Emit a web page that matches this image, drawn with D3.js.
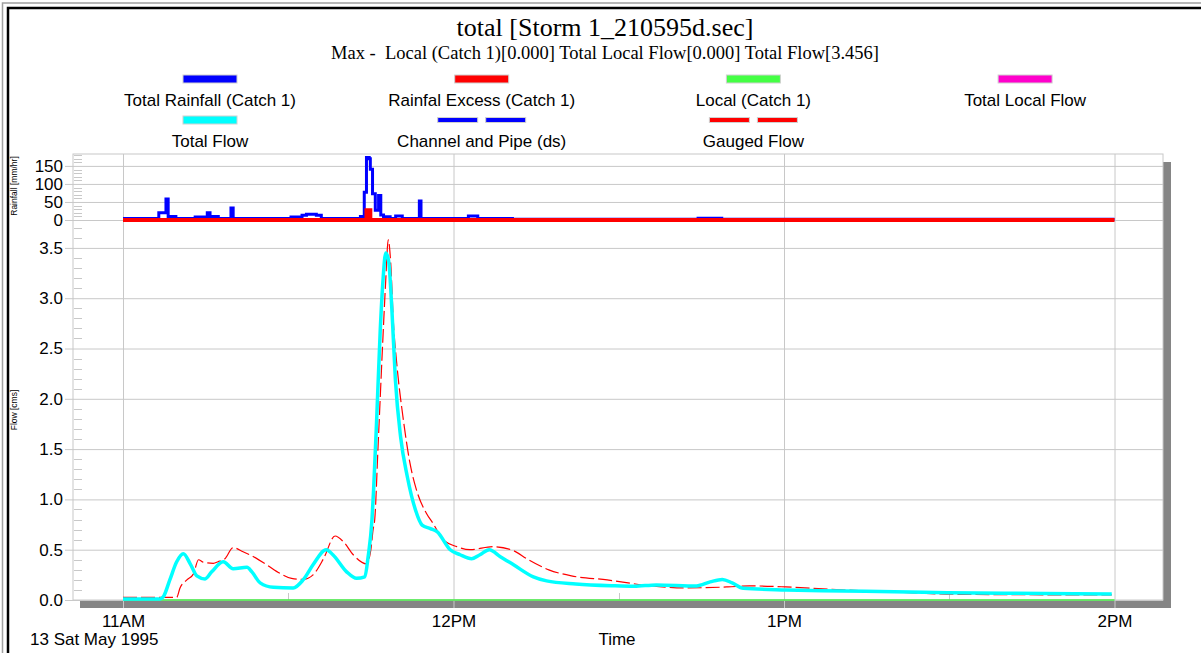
<!DOCTYPE html>
<html>
<head>
<meta charset="utf-8">
<script src="https://cdn.jsdelivr.net/npm/d3@7"></script>
<style>
  body { margin: 0; background: #fff; }
  svg { display: block; font-family: "Liberation Sans", Arial, sans-serif; }
</style>
</head>
<body>
<svg id="chart" width="1201" height="653"></svg>
<script>
// All series: [minutes after 11:00 on 13 May 1995, value]
const totalRainfall = [
  [0, 4], [6.5, 20], [7.8, 58], [8.2, 10], [9.6, 4], [13.1, 8], [15.3, 20], [15.8, 10],
  [17.3, 4], [19.6, 33], [20, 4], [30.5, 8], [32.5, 13], [33.3, 16], [35.1, 13], [36, 4],
  [43.1, 10], [43.8, 77], [44.2, 173], [44.7, 170], [44.9, 141], [45.3, 73], [45.8, 27],
  [46.4, 68], [46.8, 14], [47.3, 9], [48.5, 4], [49.5, 11], [50.7, 4], [53.8, 53], [54.1, 4],
  [62.7, 11], [64.4, 4], [70.7, 2], [104.4, 5], [108.7, 2], [180, 2]
];
const rainfallExcess = [[0, 0], [44.2, 27], [44.9, 0], [180, 0]];
const localCatch = [[0, 0], [180, 0]];

const totalFlow = [
  [0, 0.01], [6.7, 0.01], [7.3, 0.03], [8.5, 0.2], [9.75, 0.38], [10.95, 0.46], [12.2, 0.36],
  [13.4, 0.24], [14.9, 0.21], [16.1, 0.28], [18.2, 0.38], [20, 0.31], [22.5, 0.325], [23.4, 0.28],
  [24.9, 0.17], [27.3, 0.126], [30.9, 0.12], [32.7, 0.2], [34.5, 0.35], [36.9, 0.5], [38.1, 0.45],
  [40.6, 0.28], [42.4, 0.215], [43.9, 0.23], [44.5, 0.43], [45.2, 0.8], [45.5, 1.1], [46.1, 1.86],
  [46.7, 2.68], [47.2, 3.18], [47.7, 3.45], [48.2, 3.38], [48.85, 2.85], [49.45, 2.19], [50.4, 1.62],
  [51.6, 1.23], [53.1, 0.895], [54.3, 0.745], [55.8, 0.71], [57, 0.68], [59.4, 0.5], [61.2, 0.45],
  [63.3, 0.41], [64.8, 0.45], [66.5, 0.5], [68.5, 0.43], [70.9, 0.35], [74.5, 0.23], [76.9, 0.19],
  [82.2, 0.16], [88.7, 0.142], [92.8, 0.136], [96.8, 0.15], [104.1, 0.139], [106.6, 0.18],
  [108.8, 0.205], [110.6, 0.17], [112.6, 0.116], [120.4, 0.1], [126.9, 0.092], [140, 0.083],
  [149.7, 0.073], [160.1, 0.067], [179.5, 0.06]
];
const gaugedFlow = [
  [0, 0.027], [9.75, 0.027], [10.35, 0.12], [11.6, 0.2], [12.8, 0.26], [13.7, 0.4], [14.6, 0.375],
  [16.4, 0.365], [17.25, 0.38], [18.5, 0.41], [20, 0.52], [21.8, 0.48], [23.7, 0.43], [26.1, 0.35],
  [28.5, 0.265], [30.6, 0.215], [32.7, 0.205], [34.5, 0.25], [36.4, 0.41], [38.5, 0.636], [40, 0.58],
  [41.8, 0.45], [44.2, 0.36], [45, 0.5], [45.4, 0.7], [45.7, 0.8], [46.3, 1.52], [47.25, 2.68],
  [47.7, 3.18], [48.15, 3.58], [48.6, 3.35], [49.1, 2.75], [49.7, 2.35], [50.9, 1.79], [52.1, 1.36],
  [53.3, 1.09], [55.1, 0.86], [56.3, 0.76], [58.1, 0.6], [60.6, 0.53], [63, 0.5], [67.2, 0.53],
  [70.9, 0.49], [73.3, 0.41], [77.3, 0.3], [81.4, 0.24], [87.9, 0.2], [94.4, 0.15], [102.5, 0.12],
  [109.8, 0.13], [113.8, 0.14], [120.3, 0.13], [128.4, 0.106], [140, 0.08], [151, 0.057], [179.5, 0.05]
];

const hourTicks = [0, 60, 120, 180];
const halfHourTicks = [30, 90, 150];
const flowTicks = [0, 0.5, 1, 1.5, 2, 2.5, 3, 3.5];
const rainTicks = [0, 50, 100, 150];

const legendNames = ["Total Rainfall (Catch 1)", "Rainfal Excess (Catch 1)", "Local (Catch 1)", "Total Local Flow",
  "Total Flow", "Channel and Pipe (ds)", "Gauged Flow"];
const legendColors = ["#0000ff", "#ff0000", "#44ff44", "#ff00cc", "#00ffff", "#0000ff", "#ff0000"];
const legendDashed = [false, false, false, false, false, true, true];

const svg = d3.select("#chart");
const plot = { left: 73, right: 1163, top: 154, bottom: 600 };
const grid = "#c8c8c8";

const start = new Date(1995, 4, 13, 11, 0);
const toTime = m => new Date(start.getTime() + m * 60000);

const x = d3.scaleTime().domain([toTime(0), toTime(180)]).range([123, 1114.5]);
const flowY = d3.scaleLinear().domain([0, 3.7]).range([plot.bottom, 227.8]);
const rainY = d3.scaleLinear().domain([0, 183]).range([220, plot.top]);

// window frame
svg.append("path").attr("d", "M2.5,653V3H1201").attr("fill", "none").attr("stroke", "#a0a0a0").attr("stroke-width", 1.5);
svg.append("path").attr("d", "M8,653V8H1201").attr("fill", "none").attr("stroke", "#000").attr("stroke-width", 2.5);

// titles
svg.append("text").attr("x", 605).attr("y", 36).attr("text-anchor", "middle")
  .style("font-family", "'Liberation Serif', 'Times New Roman', serif").style("font-size", "26px")
  .text("total [Storm 1_210595d.sec]");
svg.append("text").attr("x", 605).attr("y", 59).attr("text-anchor", "middle")
  .style("font-family", "'Liberation Serif', 'Times New Roman', serif").style("font-size", "18.5px")
  .attr("xml:space", "preserve")
  .text("Max -  Local (Catch 1)[0.000] Total Local Flow[0.000] Total Flow[3.456]");

// legend
legendNames.forEach((name, i) => {
  const col = i % 4, row = Math.floor(i / 4);
  const cx = 210 + col * 271.7;
  const sy = row === 0 ? 75 : 116;
  const g = svg.append("g");
  if (legendDashed[i]) {
    [-44, 4].forEach(off => {
      g.append("rect").attr("x", cx + off).attr("y", sy + 1.5).attr("width", 40).attr("height", 5)
        .attr("fill", legendColors[i]).attr("stroke", "#d0d0d0").attr("stroke-width", 1);
    });
  } else {
    g.append("rect").attr("x", cx - 27).attr("y", sy).attr("width", 54).attr("height", 8)
      .attr("fill", legendColors[i]).attr("stroke", "#d0d0d0").attr("stroke-width", 1);
  }
  g.append("text").attr("x", cx).attr("y", sy + 31).attr("text-anchor", "middle")
    .style("font-size", "17px").text(name);
});

// plot shadow and background
svg.append("rect").attr("x", 80).attr("y", 162).attr("width", 1091).attr("height", 446).attr("fill", "#858585");
svg.append("rect").attr("x", plot.left).attr("y", plot.top).attr("width", plot.right - plot.left)
  .attr("height", plot.bottom - plot.top).attr("fill", "#fff").attr("stroke", grid);

// x axis with full-height grid lines
const xAxis = svg.append("g").attr("transform", `translate(0,${plot.top})`)
  .call(d3.axisBottom(x).tickValues(hourTicks.map(toTime)).tickSize(608 - plot.top).tickPadding(7)
    .tickFormat(d3.timeFormat("%-I%p")));
xAxis.select(".domain").remove();
xAxis.selectAll("line").attr("stroke", grid);
xAxis.selectAll("text").attr("fill", "#000").style("font-size", "17px").style("font-family", "'Liberation Sans', Arial, sans-serif");

svg.append("g").selectAll("line").data(halfHourTicks).join("line")
  .attr("x1", d => Math.round(x(toTime(d))) + 0.5).attr("x2", d => Math.round(x(toTime(d))) + 0.5)
  .attr("y1", plot.bottom - 7).attr("y2", plot.bottom).attr("stroke", grid);

// y axes: grid lines run from the label side across the plot
function yAxis(scale, ticks, fmt) {
  const g = svg.append("g").attr("transform", `translate(${plot.right},0)`)
    .call(d3.axisLeft(scale).tickValues(ticks).tickSize(plot.right - 65).tickPadding(2).tickFormat(fmt));
  g.select(".domain").remove();
  g.selectAll("line").attr("stroke", grid);
  g.selectAll("text").attr("fill", "#000").style("font-size", "17px").style("font-family", "'Liberation Sans', Arial, sans-serif");
}
yAxis(flowY, flowTicks, d3.format(".1f"));
yAxis(rainY, rainTicks, d3.format("d"));

// minor ticks on the left edge
const flowMinor = d3.range(1, 38).map(d => d / 10).filter(d => Math.round(d * 10) % 5 !== 0);
const rainMinor = d3.range(10, 190, 10).filter(d => d % 50 !== 0);
svg.append("g").selectAll("line").data(flowMinor.map(d => flowY(d)).concat(rainMinor.map(d => rainY(d))))
  .join("line").attr("x1", plot.left + 1).attr("x2", plot.left + 9)
  .attr("y1", d => Math.round(d) + 0.5).attr("y2", d => Math.round(d) + 0.5).attr("stroke", grid);

// axis titles
svg.append("text").attr("transform", "translate(17,186) rotate(-90)").attr("text-anchor", "middle")
  .style("font-size", "8.5px").text("Rainfall [mm/hr]");
svg.append("text").attr("transform", "translate(17,410) rotate(-90)").attr("text-anchor", "middle")
  .style("font-size", "8.5px").text("Flow [cms]");
svg.append("text").attr("x", 30).attr("y", 645).style("font-size", "17px").text("13 Sat May 1995");
svg.append("text").attr("x", 617).attr("y", 645).attr("text-anchor", "middle").style("font-size", "17px").text("Time");

// series
const lineOf = (scale, curve) => d3.line().x(d => x(toTime(d[0]))).y(d => scale(d[1])).curve(curve);

svg.append("path").datum(totalRainfall).attr("d", lineOf(rainY, d3.curveStepAfter))
  .attr("fill", "none").attr("stroke", "#0000ff").attr("stroke-width", 3);
svg.append("path").datum(rainfallExcess).attr("d", lineOf(rainY, d3.curveStepAfter))
  .attr("fill", "none").attr("stroke", "#ff0000").attr("stroke-width", 4);
svg.append("path").datum(localCatch).attr("d", lineOf(flowY, d3.curveLinear))
  .attr("fill", "none").attr("stroke", "#44ee44").attr("stroke-width", 1.5);
svg.append("path").datum(gaugedFlow).attr("d", lineOf(flowY, d3.curveMonotoneX))
  .attr("fill", "none").attr("stroke", "#ff0000").attr("stroke-width", 1.2).attr("stroke-dasharray", "14,4");
svg.append("path").datum(totalFlow).attr("d", lineOf(flowY, d3.curveMonotoneX))
  .attr("fill", "none").attr("stroke", "#00ffff").attr("stroke-width", 3.5);
</script>
</body>
</html>
